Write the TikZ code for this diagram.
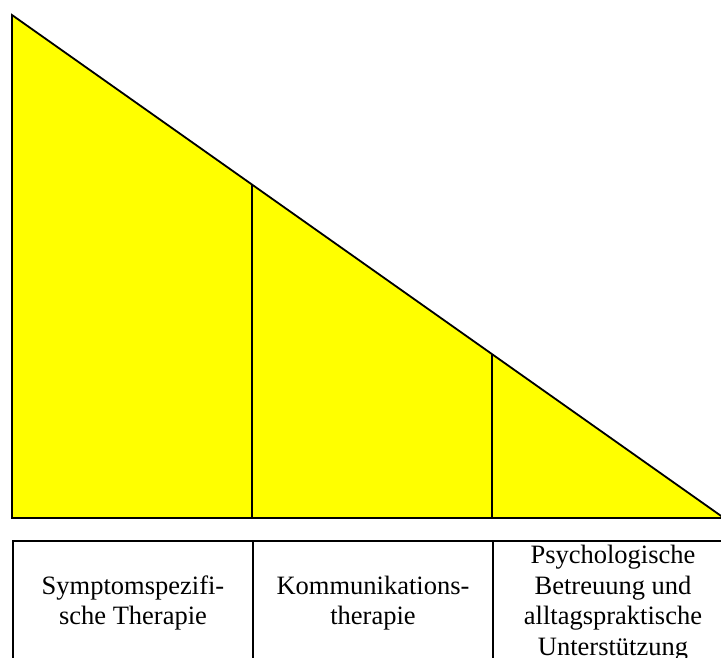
\documentclass[tikz,border=0pt]{standalone}
\usepackage{fontspec}
\setmainfont{Liberation Serif}
\usetikzlibrary{calc,positioning}
\definecolor{wedgeyellow}{RGB}{255,255,0}

\begin{document}
\begin{tikzpicture}[
  x=1pt, y=-1pt,
  wedge/.style={draw, fill=wedgeyellow, line width=1.8pt, line join=miter},
  divider/.style={draw, line width=1.8pt},
  cell/.style={draw, line width=1.8pt, minimum width=240pt, minimum height=124pt,
    inner sep=0pt, outer sep=0pt, align=center, anchor=north west,
    font=\fontsize{26.5}{30.5}\selectfont}
]
  \useasboundingbox (0,0) rectangle (721,657);
  \clip (0,0) rectangle (721,657);

  \coordinate (top) at (12,15);
  \coordinate (corner) at (12,518);
  \coordinate (tip) at (724,518);
  \path[wedge] (top) -- (corner) -- (tip) -- cycle;

  \coordinate (d1) at ($(top)!0.337!(tip)$);
  \coordinate (d2) at ($(top)!0.674!(tip)$);
  \draw[divider] (d1) -- (d1 |- corner);
  \draw[divider] (d2) -- (d2 |- corner);

  \node[cell] (sym) at (13,541) {Symptomspezifi-\\sche Therapie};
  \node[cell, right=0pt of sym] (kom) {Kommunikations-\\therapie};
  \node[cell, right=0pt of kom] (psy) {Psychologische\\Betreuung und\\alltagspraktische\\Unterstützung};
\end{tikzpicture}
\end{document}
